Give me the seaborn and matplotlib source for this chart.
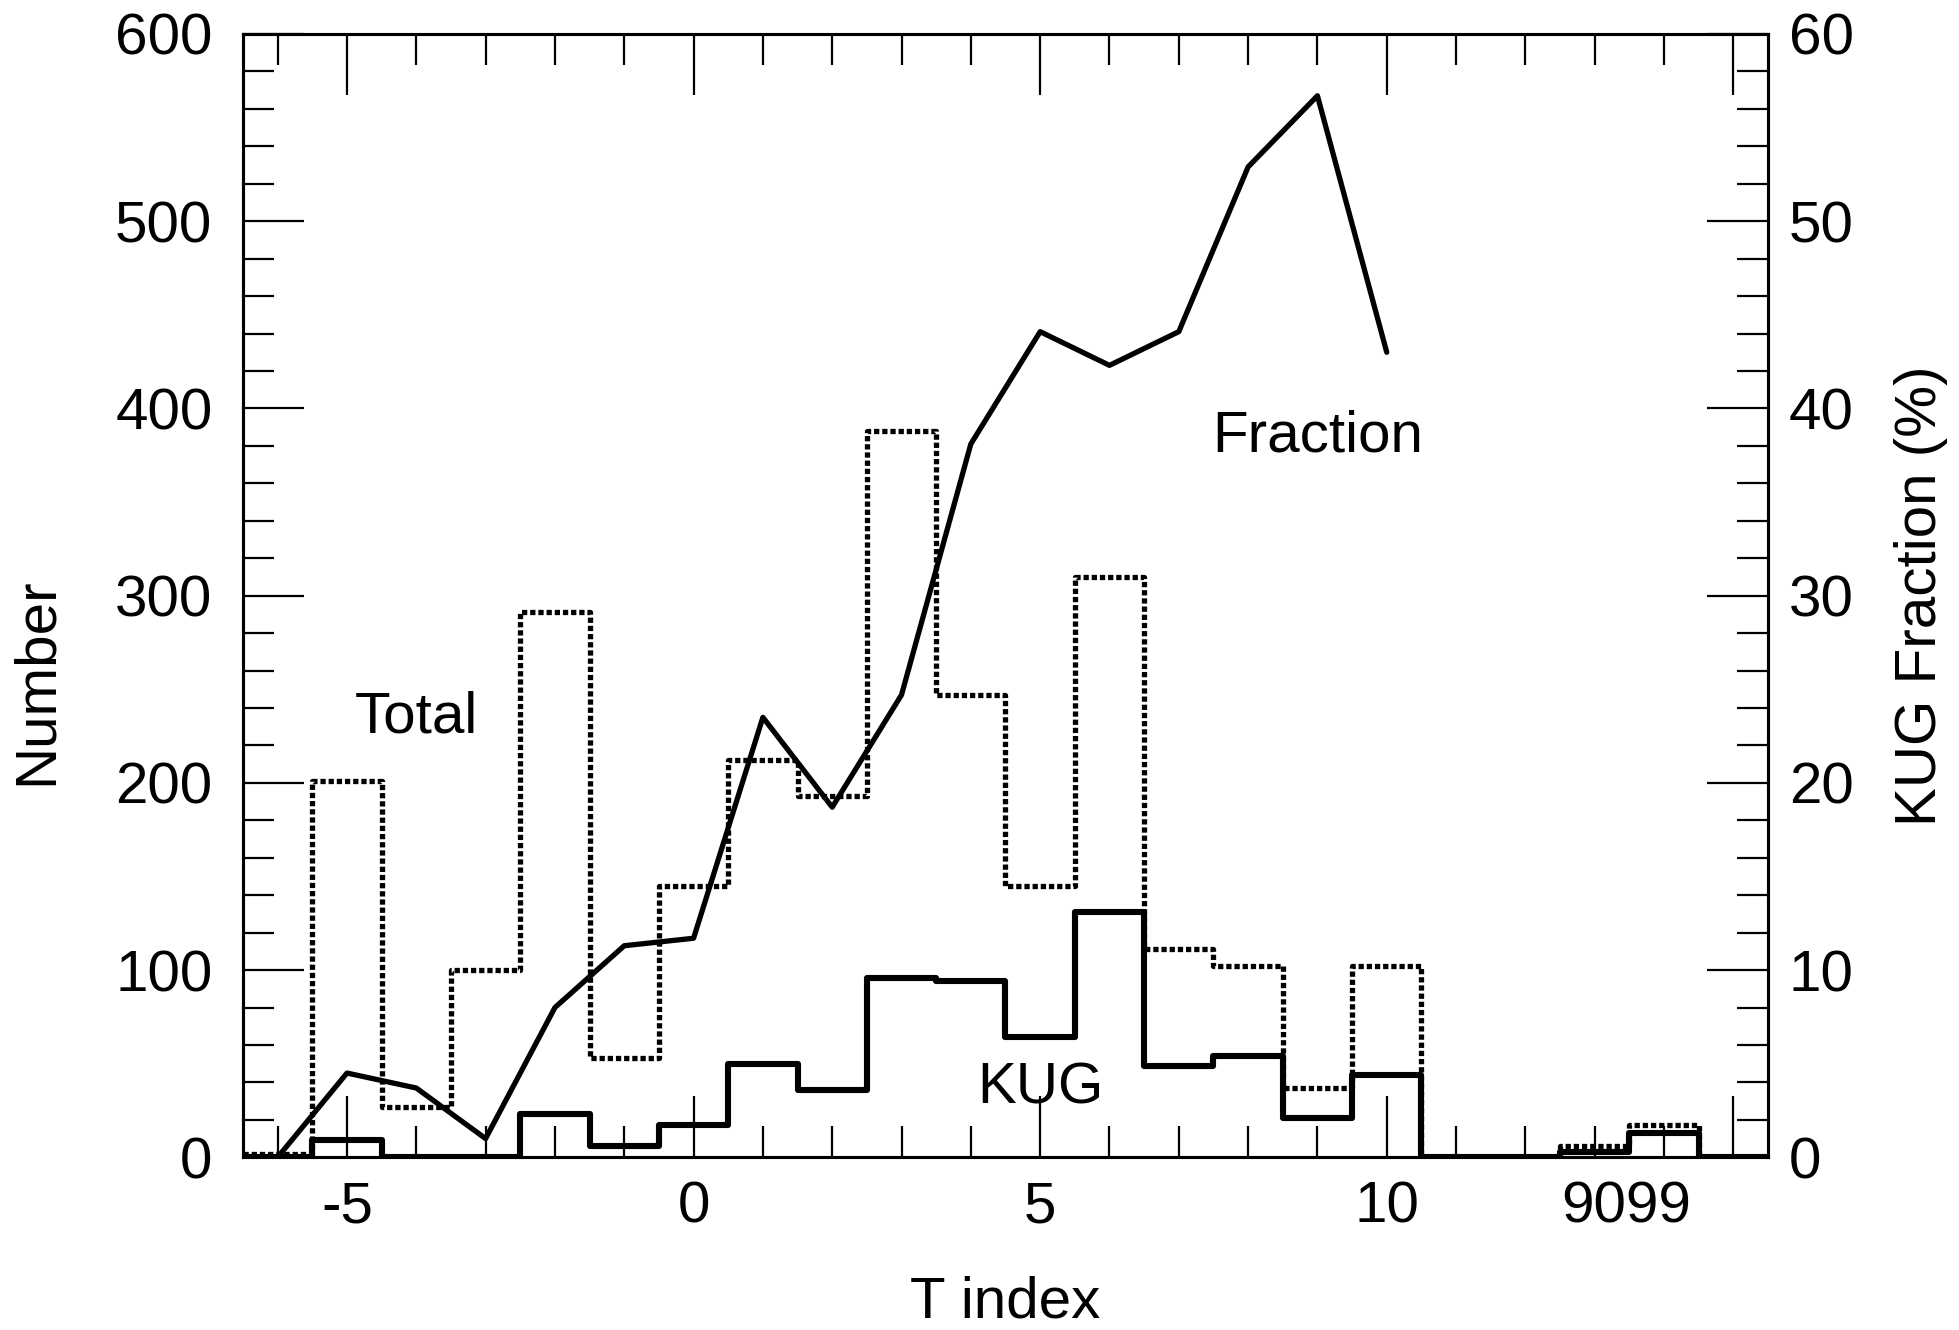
import numpy as np
import pandas as pd
import seaborn as sns
import matplotlib.pyplot as plt
from matplotlib.ticker import MultipleLocator

# T index bins (centres), counts
t_index = list(range(-6, 16))
total = [2, 201, 27, 100, 291, 53, 145, 212, 193, 388, 247, 145, 310, 111, 102, 37, 102, 0, 0, 6, 17, 0]
kug = [0, 9, 0, 0, 23, 6, 17, 50, 36, 96, 94, 64, 131, 49, 54, 21, 44, 0, 0, 3, 13, 0]

# KUG fraction (%) at integer T index
frac_t = list(range(-6, 11))
frac = [0.0, 4.5, 3.7, 1.0, 8.0, 11.3, 11.7, 23.5, 18.7, 24.7, 38.1, 44.1, 42.3, 44.1, 52.9, 56.7, 43.0]

xticks = [-5, 0, 5, 10, 15]
xticklabels = ['-5', '0', '5', '10', '']

sns.set_style('ticks')
plt.rcParams['font.family'] = ['Liberation Sans', 'DejaVu Sans']
plt.rcParams['axes.unicode_minus'] = False
for k in ['text.color', 'axes.labelcolor', 'xtick.color', 'ytick.color', 'axes.edgecolor']:
    plt.rcParams[k] = 'black'
FS = 42

df = pd.DataFrame({'t': t_index, 'total': total, 'kug': kug})

fig = plt.figure(figsize=(19.59, 13.30), dpi=100)
ax = fig.add_axes([0.12404, 0.12985, 0.77846, 0.8446])


def step_hist(col, lw, ls):
    n_l, n_c = len(ax.lines), len(ax.collections)
    sns.histplot(data=df, x='t', weights=col, binwidth=1, binrange=(-6.5, 15.5), element='step',
                 fill=False, color='black', ax=ax)
    # seaborn tweaks the width of its outlines, so set the look afterwards
    for art in list(ax.lines[n_l:]) + list(ax.collections[n_c:]):
        art.set_linewidth(lw)
        art.set_linestyle(ls)
        art.set_color('black')


step_hist('total', 3.8, (0, (1.0, 0.55)))
step_hist('kug', 4.4, '-')

ax.set_xlim(-6.5, 15.5)
ax.set_ylim(0, 600)
ax.set_xticks(xticks)
ax.set_xticklabels(xticklabels)
ax.xaxis.set_minor_locator(MultipleLocator(1))
ax.set_yticks(np.arange(0, 601, 100))
ax.yaxis.set_minor_locator(MultipleLocator(20))
ax.set_xlabel('')
ax.set_ylabel('')

ax2 = ax.twinx()
sns.lineplot(x=frac_t, y=frac, color='black', ax=ax2)
for ln in ax2.lines:
    ln.set_linewidth(3.8)
ax2.set_ylim(0, 60)
ax2.set_yticks(np.arange(0, 61, 10))
ax2.yaxis.set_minor_locator(MultipleLocator(2))
ax2.set_ylabel('')

for a in (ax, ax2):
    for s in a.spines.values():
        s.set_linewidth(2.2)
        s.set_color('black')
        s.set_visible(True)

ax.tick_params(axis='x', which='both', direction='in', top=True, bottom=True, width=1.6, labelsize=FS, pad=17)
ax.tick_params(axis='y', which='both', direction='in', left=True, right=False, width=1.6, labelsize=FS, pad=22)
ax2.tick_params(axis='y', which='both', direction='in', right=True, left=False, width=1.6, labelsize=FS, pad=15)
for a in (ax, ax2):
    a.tick_params(which='major', length=44)
    a.tick_params(which='minor', length=22)

ax.annotate('9099', xy=(13.45, 0), xycoords=('data', 'axes fraction'), xytext=(0, -17),
            textcoords='offset points', ha='center', va='top', fontsize=FS)

ax.text(-4.0, 227, 'Total', ha='center', va='baseline', fontsize=FS)
ax.text(9.0, 377, 'Fraction', ha='center', va='baseline', fontsize=FS)
ax.text(5.0, 29, 'KUG', ha='center', va='baseline', fontsize=FS)

fig.text(37 / 1959, 1 - 681 / 1330, 'Number', rotation=90, ha='center', va='center', fontsize=FS)
fig.text(1921 / 1959, 1 - 596 / 1330, 'KUG Fraction (%)', rotation=90, ha='center', va='center', fontsize=FS)
fig.text(1005 / 1959, 1 - 1303 / 1330, 'T index', ha='center', va='center', fontsize=FS)

plt.savefig('out.png', dpi=100)
plt.close()
